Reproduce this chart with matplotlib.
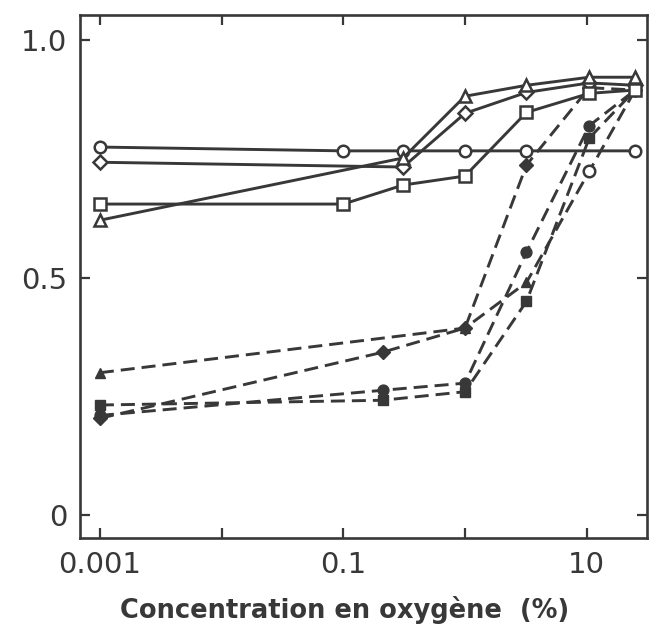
import numpy as np
import matplotlib
matplotlib.use("Agg")
import matplotlib.pyplot as plt

# couleur d'encre
ENCRE = '#383838'

# --- courbes en trait plein (symboles vides) ---
x_rond = [0.001, 0.1, 0.31, 1.0, 3.2, 25]
y_rond = [0.775, 0.767, 0.767, 0.767, 0.767, 0.767]

x_losange = [0.001, 0.31, 1.0, 3.2, 10.5, 25]
y_losange = [0.743, 0.733, 0.846, 0.89, 0.91, 0.905]

x_carre = [0.001, 0.1, 0.31, 1.0, 3.2, 10.5, 25]
y_carre = [0.655, 0.655, 0.695, 0.714, 0.848, 0.888, 0.895]

x_triangle = [0.001, 0.31, 1.0, 3.2, 10.5, 25]
y_triangle = [0.621, 0.752, 0.882, 0.905, 0.922, 0.922]

# point isole (rond vide a 10 %)
x_rond_seul = [10.5]
y_rond_seul = [0.725]

# --- courbes en tirets (symboles pleins) ---
x_triangle_p = [0.001, 1.0, 3.2, 25]
y_triangle_p = [0.30, 0.394, 0.49, 0.895]

x_losange_p = [0.001, 0.21, 1.0, 3.2, 10.5, 25]
y_losange_p = [0.204, 0.343, 0.394, 0.737, 0.90, 0.895]

x_rond_p = [0.001, 0.21, 1.0, 3.2, 10.5, 25]
y_rond_p = [0.21, 0.263, 0.278, 0.554, 0.82, 0.895]

x_carre_p = [0.001, 0.21, 1.0, 3.2, 10.5, 25]
y_carre_p = [0.232, 0.242, 0.26, 0.45, 0.794, 0.895]

ticks_x = [0.001, 0.01, 0.1, 1, 10]
labels_x = ['0.001', '', '0.1', '', '10']
ticks_y = [0, 0.5, 1.0]
labels_y = ['0', '0.5', '1.0']

fig = plt.figure(figsize=(6.54, 6.38), dpi=100)
ax = fig.add_axes([0.1223, 0.1567, 0.8670, 0.8198])

# traits pleins
pleins = [
    (x_rond, y_rond, 'o'),
    (x_losange, y_losange, 'D'),
    (x_carre, y_carre, 's'),
    (x_triangle, y_triangle, '^'),
]
for xs, ys, m in pleins:
    ms = 7 if m == 'D' else 8.3
    ax.plot(xs, ys, color=ENCRE, lw=2.1, marker=m, ms=ms,
            mfc='white', mec=ENCRE, mew=1.8, zorder=3)

ax.plot(x_rond_seul, y_rond_seul, ls='none', marker='o', ms=8.3,
        mfc='white', mec=ENCRE, mew=1.8, zorder=4)

# tirets
tirets = [
    (x_triangle_p, y_triangle_p, '^'),
    (x_losange_p, y_losange_p, 'D'),
    (x_rond_p, y_rond_p, 'o'),
    (x_carre_p, y_carre_p, 's'),
]
for xs, ys, m in tirets:
    ms = 7 if m == 'D' else 7.8
    ax.plot(xs, ys, color=ENCRE, lw=2.1, dashes=(4.8, 2.4), marker=m, ms=ms,
            mfc=ENCRE, mec=ENCRE, zorder=2)

ax.set_xscale('log')
ax.set_xlim(0.000686, 31.3)
ax.set_ylim(-0.048, 1.053)

ax.set_xticks(ticks_x)
ax.set_xticklabels(labels_x)
ax.set_yticks(ticks_y)
ax.set_yticklabels(labels_y)
ax.xaxis.set_minor_locator(matplotlib.ticker.NullLocator())

ax.tick_params(which='major', direction='in', length=7, width=1.6,
               top=True, right=True, color=ENCRE, labelcolor=ENCRE,
               labelsize=21, pad=9)
for sp in ax.spines.values():
    sp.set_linewidth(1.9)
    sp.set_color(ENCRE)

fig.text(345 / 654, 1 - 610 / 638, 'Concentration en oxygène  (%)',
         ha='center', va='center', fontsize=18.5, fontweight='bold',
         color=ENCRE)

fig.savefig('out.png', dpi=100)
